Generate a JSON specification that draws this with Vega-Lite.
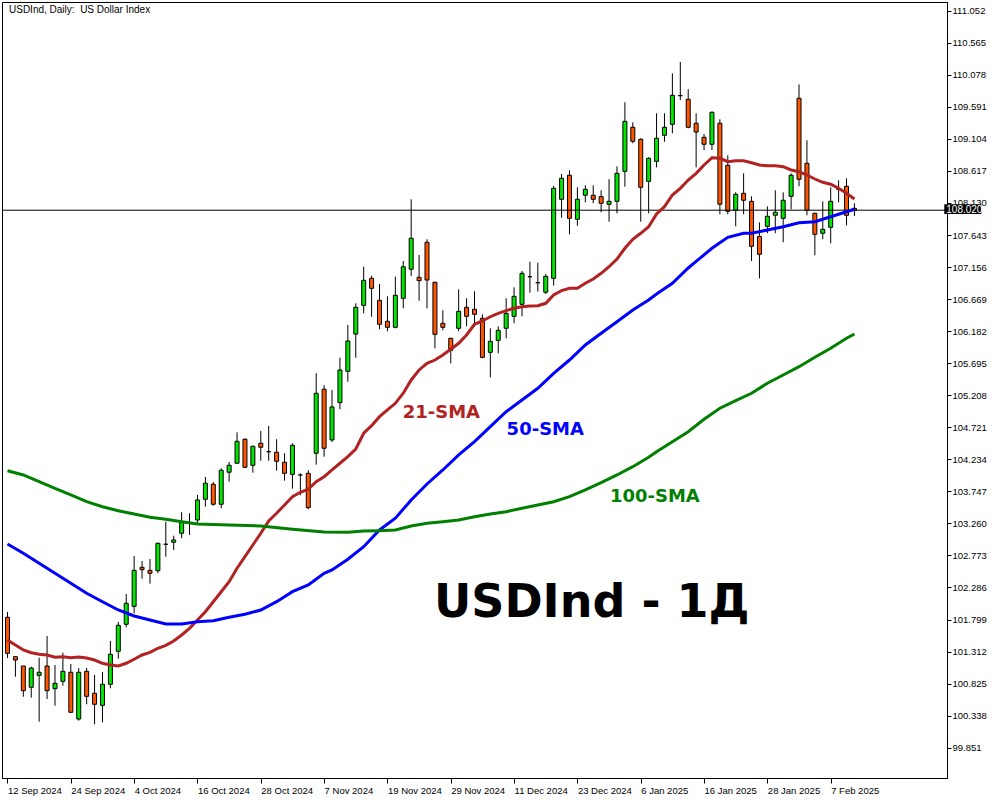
{
"$schema": "https://vega.github.io/schema/vega-lite/v6.json",
"width": 945, "height": 776,
"autosize": {"type": "none"},
"padding": {"left": 2, "top": 2, "right": 53, "bottom": 22},
"background": "white",
"config": {
"view": {"stroke": "black", "strokeWidth": 1},
"axis": {"title": null, "grid": false, "tickColor": "black", "domainColor": "black", "labelColor": "black", "labelFont": "Liberation Sans", "labelFontSize": 9.5, "labelOverlap": false, "labelFlush": false, "labelBound": false}
},
"datasets": {
"candles": [
{"i":0,"d":"2024-09-12","o":101.833,"h":101.914,"l":101.214,"c":101.286},
{"i":1,"d":"2024-09-13","o":101.234,"h":101.245,"l":100.930,"c":101.184},
{"i":2,"d":"2024-09-16","o":101.093,"h":101.093,"l":100.626,"c":100.717},
{"i":3,"d":"2024-09-17","o":100.769,"h":101.082,"l":100.611,"c":101.062},
{"i":4,"d":"2024-09-18","o":100.951,"h":101.219,"l":100.246,"c":100.997},
{"i":5,"d":"2024-09-19","o":101.093,"h":101.549,"l":100.591,"c":100.717},
{"i":6,"d":"2024-09-20","o":100.748,"h":101.108,"l":100.489,"c":100.830},
{"i":7,"d":"2024-09-23","o":100.860,"h":101.295,"l":100.793,"c":101.012},
{"i":8,"d":"2024-09-24","o":100.997,"h":101.123,"l":100.380,"c":100.389},
{"i":9,"d":"2024-09-25","o":100.287,"h":101.062,"l":100.262,"c":100.997},
{"i":10,"d":"2024-09-26","o":101.012,"h":101.062,"l":100.511,"c":100.632},
{"i":11,"d":"2024-09-27","o":100.678,"h":100.956,"l":100.207,"c":100.511},
{"i":12,"d":"2024-09-30","o":100.495,"h":101.002,"l":100.237,"c":100.815},
{"i":13,"d":"2024-10-01","o":100.815,"h":101.473,"l":100.754,"c":101.271},
{"i":14,"d":"2024-10-02","o":101.316,"h":101.762,"l":101.204,"c":101.711},
{"i":15,"d":"2024-10-03","o":101.727,"h":102.187,"l":101.681,"c":102.046},
{"i":16,"d":"2024-10-04","o":102.000,"h":102.765,"l":101.894,"c":102.547},
{"i":17,"d":"2024-10-07","o":102.593,"h":102.689,"l":102.420,"c":102.557},
{"i":18,"d":"2024-10-08","o":102.547,"h":102.719,"l":102.344,"c":102.502},
{"i":19,"d":"2024-10-09","o":102.541,"h":102.965,"l":102.502,"c":102.958},
{"i":20,"d":"2024-10-10","o":102.943,"h":103.286,"l":102.754,"c":102.943},
{"i":21,"d":"2024-10-11","o":102.973,"h":103.073,"l":102.856,"c":103.008},
{"i":22,"d":"2024-10-14","o":103.110,"h":103.429,"l":103.034,"c":103.277},
{"i":23,"d":"2024-10-15","o":103.262,"h":103.414,"l":103.084,"c":103.262},
{"i":24,"d":"2024-10-16","o":103.312,"h":103.692,"l":103.262,"c":103.616},
{"i":25,"d":"2024-10-17","o":103.627,"h":103.966,"l":103.514,"c":103.870},
{"i":26,"d":"2024-10-18","o":103.855,"h":103.890,"l":103.529,"c":103.551},
{"i":27,"d":"2024-10-21","o":103.551,"h":104.098,"l":103.490,"c":104.068},
{"i":28,"d":"2024-10-22","o":104.038,"h":104.194,"l":103.894,"c":104.143},
{"i":29,"d":"2024-10-23","o":104.174,"h":104.645,"l":104.174,"c":104.508},
{"i":30,"d":"2024-10-24","o":104.539,"h":104.554,"l":104.105,"c":104.113},
{"i":31,"d":"2024-10-25","o":104.143,"h":104.440,"l":104.031,"c":104.432},
{"i":32,"d":"2024-10-28","o":104.478,"h":104.665,"l":104.213,"c":104.417},
{"i":33,"d":"2024-10-29","o":104.350,"h":104.741,"l":104.213,"c":104.350},
{"i":34,"d":"2024-10-30","o":104.341,"h":104.539,"l":104.061,"c":104.204},
{"i":35,"d":"2024-10-31","o":104.189,"h":104.326,"l":103.910,"c":104.021},
{"i":36,"d":"2024-11-01","o":104.006,"h":104.478,"l":103.788,"c":104.447},
{"i":37,"d":"2024-11-04","o":103.996,"h":104.021,"l":103.687,"c":103.996},
{"i":38,"d":"2024-11-05","o":104.021,"h":104.068,"l":103.475,"c":103.499},
{"i":39,"d":"2024-11-06","o":104.326,"h":105.542,"l":104.153,"c":105.238},
{"i":40,"d":"2024-11-07","o":105.299,"h":105.359,"l":104.274,"c":104.402},
{"i":41,"d":"2024-11-08","o":104.528,"h":105.288,"l":104.498,"c":105.030},
{"i":42,"d":"2024-11-11","o":105.095,"h":105.778,"l":104.995,"c":105.591},
{"i":43,"d":"2024-11-12","o":105.571,"h":106.275,"l":105.413,"c":106.032},
{"i":44,"d":"2024-11-13","o":106.138,"h":106.605,"l":105.778,"c":106.544},
{"i":45,"d":"2024-11-14","o":106.574,"h":107.161,"l":106.453,"c":106.954},
{"i":46,"d":"2024-11-15","o":106.985,"h":107.024,"l":106.401,"c":106.833},
{"i":47,"d":"2024-11-18","o":106.650,"h":106.898,"l":106.210,"c":106.286},
{"i":48,"d":"2024-11-19","o":106.331,"h":106.711,"l":106.179,"c":106.240},
{"i":49,"d":"2024-11-20","o":106.240,"h":107.009,"l":106.225,"c":106.726},
{"i":50,"d":"2024-11-21","o":106.681,"h":107.248,"l":106.529,"c":107.161},
{"i":51,"d":"2024-11-22","o":107.122,"h":108.186,"l":107.020,"c":107.593},
{"i":52,"d":"2024-11-25","o":107.000,"h":107.339,"l":106.644,"c":106.949},
{"i":53,"d":"2024-11-26","o":107.532,"h":107.578,"l":106.529,"c":106.959},
{"i":54,"d":"2024-11-27","o":106.924,"h":106.935,"l":105.921,"c":106.134},
{"i":55,"d":"2024-11-28","o":106.301,"h":106.498,"l":106.194,"c":106.240},
{"i":56,"d":"2024-11-29","o":106.073,"h":106.080,"l":105.693,"c":105.890},
{"i":57,"d":"2024-12-02","o":106.225,"h":106.818,"l":106.179,"c":106.483},
{"i":58,"d":"2024-12-03","o":106.544,"h":106.681,"l":106.255,"c":106.407},
{"i":59,"d":"2024-12-04","o":106.514,"h":106.787,"l":106.249,"c":106.438},
{"i":60,"d":"2024-12-05","o":106.377,"h":106.438,"l":105.769,"c":105.784},
{"i":61,"d":"2024-12-06","o":105.860,"h":106.225,"l":105.480,"c":106.027},
{"i":62,"d":"2024-12-09","o":106.042,"h":106.255,"l":105.845,"c":106.194},
{"i":63,"d":"2024-12-10","o":106.225,"h":106.681,"l":106.073,"c":106.453},
{"i":64,"d":"2024-12-11","o":106.407,"h":106.848,"l":106.301,"c":106.711},
{"i":65,"d":"2024-12-12","o":106.590,"h":107.096,"l":106.407,"c":107.061},
{"i":66,"d":"2024-12-13","o":107.009,"h":107.237,"l":106.767,"c":107.009},
{"i":67,"d":"2024-12-16","o":106.918,"h":107.222,"l":106.782,"c":106.918},
{"i":68,"d":"2024-12-17","o":106.773,"h":107.050,"l":106.747,"c":107.015},
{"i":69,"d":"2024-12-18","o":106.985,"h":108.388,"l":106.874,"c":108.353},
{"i":70,"d":"2024-12-19","o":108.186,"h":108.571,"l":107.906,"c":108.505},
{"i":71,"d":"2024-12-20","o":108.551,"h":108.627,"l":107.654,"c":107.897},
{"i":72,"d":"2024-12-23","o":107.882,"h":108.368,"l":107.784,"c":108.186},
{"i":73,"d":"2024-12-24","o":108.247,"h":108.399,"l":108.140,"c":108.338},
{"i":74,"d":"2024-12-26","o":108.247,"h":108.399,"l":108.125,"c":108.186},
{"i":75,"d":"2024-12-27","o":108.226,"h":108.323,"l":107.988,"c":108.125},
{"i":76,"d":"2024-12-30","o":108.110,"h":108.490,"l":107.845,"c":108.155},
{"i":77,"d":"2024-12-31","o":108.155,"h":108.687,"l":107.973,"c":108.581},
{"i":78,"d":"2025-01-02","o":108.611,"h":109.660,"l":108.377,"c":109.371},
{"i":79,"d":"2025-01-03","o":109.280,"h":109.356,"l":109.037,"c":109.067},
{"i":80,"d":"2025-01-06","o":109.098,"h":109.113,"l":107.845,"c":108.368},
{"i":81,"d":"2025-01-07","o":108.459,"h":108.824,"l":107.973,"c":108.809},
{"i":82,"d":"2025-01-08","o":108.763,"h":109.493,"l":108.672,"c":109.113},
{"i":83,"d":"2025-01-09","o":109.159,"h":109.493,"l":109.061,"c":109.280},
{"i":84,"d":"2025-01-10","o":109.326,"h":110.100,"l":109.189,"c":109.767},
{"i":85,"d":"2025-01-13","o":109.761,"h":110.273,"l":109.695,"c":109.761},
{"i":86,"d":"2025-01-14","o":109.706,"h":109.858,"l":109.265,"c":109.280},
{"i":87,"d":"2025-01-15","o":109.341,"h":109.493,"l":108.672,"c":109.208},
{"i":88,"d":"2025-01-16","o":109.128,"h":109.178,"l":108.930,"c":109.022},
{"i":89,"d":"2025-01-17","o":109.022,"h":109.520,"l":108.935,"c":109.508},
{"i":90,"d":"2025-01-20","o":109.341,"h":109.402,"l":107.958,"c":108.110},
{"i":91,"d":"2025-01-21","o":108.702,"h":108.854,"l":107.958,"c":108.003},
{"i":92,"d":"2025-01-22","o":108.019,"h":108.292,"l":107.775,"c":108.262},
{"i":93,"d":"2025-01-23","o":108.277,"h":108.581,"l":107.958,"c":108.171},
{"i":94,"d":"2025-01-24","o":108.155,"h":108.231,"l":107.248,"c":107.471},
{"i":95,"d":"2025-01-27","o":107.622,"h":107.836,"l":106.985,"c":107.350},
{"i":96,"d":"2025-01-28","o":107.775,"h":108.079,"l":107.669,"c":107.927},
{"i":97,"d":"2025-01-29","o":107.943,"h":108.323,"l":107.669,"c":107.988},
{"i":98,"d":"2025-01-30","o":107.897,"h":108.292,"l":107.532,"c":108.171},
{"i":99,"d":"2025-01-31","o":108.231,"h":108.581,"l":108.034,"c":108.551},
{"i":100,"d":"2025-02-03","o":109.721,"h":109.932,"l":108.384,"c":108.490},
{"i":101,"d":"2025-02-04","o":108.733,"h":109.083,"l":107.943,"c":108.019},
{"i":102,"d":"2025-02-05","o":107.973,"h":107.980,"l":107.334,"c":107.654},
{"i":103,"d":"2025-02-06","o":107.669,"h":108.155,"l":107.578,"c":107.730},
{"i":104,"d":"2025-02-07","o":107.760,"h":108.368,"l":107.517,"c":108.155},
{"i":105,"d":"2025-02-10","o":108.338,"h":108.475,"l":108.140,"c":108.338},
{"i":106,"d":"2025-02-11","o":108.383,"h":108.505,"l":107.790,"c":107.943},
{"i":107,"d":"2025-02-12","o":108.049,"h":108.125,"l":107.932,"c":108.020}
],
"sma": [
{"s":"21","i":0,"v":101.488},{"s":"21","i":1,"v":101.412},{"s":"21","i":2,"v":101.336},{"s":"21","i":3,"v":101.295},{"s":"21","i":4,"v":101.271},{"s":"21","i":5,"v":101.260},{"s":"21","i":6,"v":101.225},{"s":"21","i":7,"v":101.234},{"s":"21","i":8,"v":101.219},{"s":"21","i":9,"v":101.230},
{"s":"21","i":10,"v":101.214},{"s":"21","i":11,"v":101.184},{"s":"21","i":12,"v":101.134},{"s":"21","i":13,"v":101.108},{"s":"21","i":14,"v":101.093},{"s":"21","i":15,"v":101.134},{"s":"21","i":16,"v":101.195},{"s":"21","i":17,"v":101.260},{"s":"21","i":18,"v":101.301},{"s":"21","i":19,"v":101.362},
{"s":"21","i":20,"v":101.407},{"s":"21","i":21,"v":101.473},{"s":"21","i":22,"v":101.564},{"s":"21","i":23,"v":101.666},{"s":"21","i":24,"v":101.792},{"s":"21","i":25,"v":101.918},{"s":"21","i":26,"v":102.070},{"s":"21","i":27,"v":102.222},{"s":"21","i":28,"v":102.374},{"s":"21","i":29,"v":102.578},
{"s":"21","i":30,"v":102.754},{"s":"21","i":31,"v":102.932},{"s":"21","i":32,"v":103.110},{"s":"21","i":33,"v":103.297},{"s":"21","i":34,"v":103.414},{"s":"21","i":35,"v":103.540},{"s":"21","i":36,"v":103.666},{"s":"21","i":37,"v":103.733},{"s":"21","i":38,"v":103.779},{"s":"21","i":39,"v":103.894},
{"s":"21","i":40,"v":103.970},{"s":"21","i":41,"v":104.072},{"s":"21","i":42,"v":104.174},{"s":"21","i":43,"v":104.274},{"s":"21","i":44,"v":104.391},{"s":"21","i":45,"v":104.630},{"s":"21","i":46,"v":104.745},{"s":"21","i":47,"v":104.882},{"s":"21","i":48,"v":104.984},{"s":"21","i":49,"v":105.085},
{"s":"21","i":50,"v":105.238},{"s":"21","i":51,"v":105.440},{"s":"21","i":52,"v":105.592},{"s":"21","i":53,"v":105.693},{"s":"21","i":54,"v":105.743},{"s":"21","i":55,"v":105.819},{"s":"21","i":56,"v":105.906},{"s":"21","i":57,"v":105.997},{"s":"21","i":58,"v":106.124},{"s":"21","i":59,"v":106.286},
{"s":"21","i":60,"v":106.336},{"s":"21","i":61,"v":106.401},{"s":"21","i":62,"v":106.453},{"s":"21","i":63,"v":106.493},{"s":"21","i":64,"v":106.529},{"s":"21","i":65,"v":106.554},{"s":"21","i":66,"v":106.564},{"s":"21","i":67,"v":106.569},{"s":"21","i":68,"v":106.605},{"s":"21","i":69,"v":106.731},
{"s":"21","i":70,"v":106.797},{"s":"21","i":71,"v":106.833},{"s":"21","i":72,"v":106.833},{"s":"21","i":73,"v":106.909},{"s":"21","i":74,"v":106.975},{"s":"21","i":75,"v":107.061},{"s":"21","i":76,"v":107.161},{"s":"21","i":77,"v":107.278},{"s":"21","i":78,"v":107.441},{"s":"21","i":79,"v":107.578},
{"s":"21","i":80,"v":107.669},{"s":"21","i":81,"v":107.769},{"s":"21","i":82,"v":107.962},{"s":"21","i":83,"v":108.073},{"s":"21","i":84,"v":108.251},{"s":"21","i":85,"v":108.353},{"s":"21","i":86,"v":108.479},{"s":"21","i":87,"v":108.581},{"s":"21","i":88,"v":108.707},{"s":"21","i":89,"v":108.818},
{"s":"21","i":90,"v":108.809},{"s":"21","i":91,"v":108.757},{"s":"21","i":92,"v":108.772},{"s":"21","i":93,"v":108.772},{"s":"21","i":94,"v":108.742},{"s":"21","i":95,"v":108.707},{"s":"21","i":96,"v":108.696},{"s":"21","i":97,"v":108.696},{"s":"21","i":98,"v":108.681},{"s":"21","i":99,"v":108.631},
{"s":"21","i":100,"v":108.605},{"s":"21","i":101,"v":108.555},{"s":"21","i":102,"v":108.494},{"s":"21","i":103,"v":108.444},{"s":"21","i":104,"v":108.414},{"s":"21","i":105,"v":108.353},{"s":"21","i":106,"v":108.277},{"s":"21","i":107,"v":108.190},
{"s":"50","i":0,"v":102.947},{"s":"50","i":2,"v":102.806},{"s":"50","i":4,"v":102.654},{"s":"50","i":6,"v":102.502},{"s":"50","i":8,"v":102.350},{"s":"50","i":10,"v":102.198},{"s":"50","i":12,"v":102.070},{"s":"50","i":14,"v":101.944},{"s":"50","i":16,"v":101.853},{"s":"50","i":18,"v":101.792},
{"s":"50","i":20,"v":101.731},{"s":"50","i":22,"v":101.731},{"s":"50","i":24,"v":101.766},{"s":"50","i":26,"v":101.781},{"s":"50","i":28,"v":101.833},{"s":"50","i":30,"v":101.879},{"s":"50","i":32,"v":101.944},{"s":"50","i":34,"v":102.070},{"s":"50","i":36,"v":102.222},{"s":"50","i":38,"v":102.324},
{"s":"50","i":40,"v":102.502},{"s":"50","i":41,"v":102.552},{"s":"50","i":43,"v":102.715},{"s":"50","i":45,"v":102.906},{"s":"50","i":47,"v":103.160},{"s":"50","i":49,"v":103.338},{"s":"50","i":51,"v":103.616},{"s":"50","i":53,"v":103.859},{"s":"50","i":55,"v":104.072},{"s":"50","i":57,"v":104.300},
{"s":"50","i":59,"v":104.502},{"s":"50","i":61,"v":104.730},{"s":"50","i":63,"v":104.958},{"s":"50","i":65,"v":105.136},{"s":"50","i":67,"v":105.313},{"s":"50","i":69,"v":105.541},{"s":"50","i":71,"v":105.743},{"s":"50","i":73,"v":105.971},{"s":"50","i":75,"v":106.149},{"s":"50","i":77,"v":106.325},
{"s":"50","i":79,"v":106.503},{"s":"50","i":81,"v":106.655},{"s":"50","i":82,"v":106.747},{"s":"50","i":84,"v":106.909},{"s":"50","i":86,"v":107.142},{"s":"50","i":87,"v":107.241},{"s":"50","i":89,"v":107.441},{"s":"50","i":91,"v":107.608},{"s":"50","i":93,"v":107.669},{"s":"50","i":94,"v":107.669},
{"s":"50","i":96,"v":107.719},{"s":"50","i":98,"v":107.769},{"s":"50","i":100,"v":107.830},{"s":"50","i":102,"v":107.845},{"s":"50","i":104,"v":107.921},{"s":"50","i":106,"v":107.997},{"s":"50","i":107,"v":108.034},
{"s":"100","i":0,"v":104.061},{"s":"100","i":2,"v":103.996},{"s":"100","i":4,"v":103.894},{"s":"100","i":6,"v":103.793},{"s":"100","i":8,"v":103.692},{"s":"100","i":10,"v":103.590},{"s":"100","i":12,"v":103.514},{"s":"100","i":14,"v":103.453},{"s":"100","i":16,"v":103.403},{"s":"100","i":18,"v":103.353},
{"s":"100","i":20,"v":103.323},{"s":"100","i":22,"v":103.286},{"s":"100","i":24,"v":103.251},{"s":"100","i":28,"v":103.236},{"s":"100","i":32,"v":103.221},{"s":"100","i":36,"v":103.171},{"s":"100","i":40,"v":103.130},{"s":"100","i":43,"v":103.125},{"s":"100","i":45,"v":103.145},{"s":"100","i":47,"v":103.150},
{"s":"100","i":49,"v":103.160},{"s":"100","i":51,"v":103.221},{"s":"100","i":53,"v":103.262},{"s":"100","i":55,"v":103.286},{"s":"100","i":57,"v":103.312},{"s":"100","i":59,"v":103.362},{"s":"100","i":61,"v":103.403},{"s":"100","i":63,"v":103.438},{"s":"100","i":65,"v":103.490},{"s":"100","i":67,"v":103.540},
{"s":"100","i":69,"v":103.590},{"s":"100","i":71,"v":103.666},{"s":"100","i":73,"v":103.768},{"s":"100","i":75,"v":103.879},{"s":"100","i":77,"v":103.996},{"s":"100","i":79,"v":104.122},{"s":"100","i":81,"v":104.265},{"s":"100","i":82,"v":104.350},{"s":"100","i":84,"v":104.502},{"s":"100","i":86,"v":104.654},
{"s":"100","i":88,"v":104.842},{"s":"100","i":90,"v":105.010},{"s":"100","i":92,"v":105.125},{"s":"100","i":94,"v":105.238},{"s":"100","i":96,"v":105.390},{"s":"100","i":98,"v":105.516},{"s":"100","i":100,"v":105.642},{"s":"100","i":102,"v":105.785},{"s":"100","i":104,"v":105.921},{"s":"100","i":106,"v":106.073},{"s":"100","i":107,"v":106.139}
]
},
"layer": [
{
"data": {"name": "candles"},
"mark": {"type": "rule", "color": "black", "strokeWidth": 1, "clip": true},
"encoding": {
"x": {"field": "i", "type": "quantitative", "scale": {"domain": [-0.0625, 118.0625], "zero": false, "nice": false},
"axis": {"orient": "bottom", "title": null, "values": [0,8,16,24,32,40,48,56,64,72,80,88,96,104], "tickCount": 100,
"labelExpr": "['12 Sep 2024','24 Sep 2024','4 Oct 2024','16 Oct 2024','28 Oct 2024','7 Nov 2024','19 Nov 2024','29 Nov 2024','11 Dec 2024','23 Dec 2024','6 Jan 2025','16 Jan 2025','28 Jan 2025','7 Feb 2025'][round(datum.value/8)]",
"tickSize": 5, "labelAlign": "left", "labelBaseline": "top", "labelPadding": 2, "labelOverlap": false, "labelFontSize": 9.5}},
"y": {"field": "l", "type": "quantitative", "scale": {"domain": [99.3906, 111.1842], "zero": false, "nice": false},
"axis": {"orient": "right", "title": null, "values": [99.851,100.338,100.825,101.312,101.799,102.286,102.773,103.26,103.747,104.234,104.721,105.208,105.695,106.182,106.669,107.156,107.643,108.13,108.617,109.104,109.591,110.078,110.565,111.052], "tickCount": 100,
"format": ".3f", "tickSize": 4, "labelPadding": 1, "labelOverlap": false, "labelFontSize": 9.5}},
"y2": {"field": "h"}
}
},
{
"data": {"name": "candles"},
"mark": {"type": "bar", "size": 4, "stroke": "black", "strokeWidth": 1, "clip": true},
"encoding": {
"x": {"field": "i", "type": "quantitative"},
"y": {"field": "o", "type": "quantitative"},
"y2": {"field": "c"},
"fill": {"condition": {"test": "datum.c >= datum.o", "value": "#00E600"}, "value": "#FF5500"}
}
},
{
"data": {"values": [{"p": 108.02}]},
"mark": {"type": "rule", "color": "black", "strokeWidth": 1},
"encoding": {"y": {"field": "p", "type": "quantitative"}}
},
{
"data": {"name": "sma"},
"mark": {"type": "line", "strokeWidth": 3, "clip": true},
"encoding": {
"x": {"field": "i", "type": "quantitative"},
"y": {"field": "v", "type": "quantitative"},
"color": {"field": "s", "type": "nominal", "scale": {"domain": ["21","50","100"], "range": ["#B22222","#0000FF","#008000"]}, "legend": null}
}
},
{
"data": {"values": [{"p": 108.02}]},
"mark": {"type": "rect", "color": "black", "clip": false},
"encoding": {
"x": {"datum": 118.35, "type": "quantitative"},
"x2": {"datum": 123.03},
"y": {"datum": 108.110, "type": "quantitative"},
"y2": {"datum": 107.962}
}
},
{
"data": {"values": [{"p": 108.02, "t": "108.020"}]},
"mark": {"type": "text", "color": "white", "align": "left", "baseline": "middle", "font": "Liberation Sans", "fontSize": 10, "clip": false},
"encoding": {
"x": {"datum": 118.6, "type": "quantitative"},
"y": {"field": "p", "type": "quantitative"},
"text": {"field": "t"}
}
},
{
"data": {"values": [{"i": 0.19, "v": 111.012, "t": "USDInd, Daily: \u00a0US Dollar Index"}]},
"mark": {"type": "text", "color": "black", "align": "left", "baseline": "alphabetic", "font": "Liberation Sans", "fontSize": 10},
"encoding": {"x": {"field": "i", "type": "quantitative"}, "y": {"field": "v", "type": "quantitative"}, "text": {"field": "t"}}
},
{
"data": {"values": [{"i": 54.81, "v": 104.857, "t": "21-SMA"}]},
"mark": {"type": "text", "color": "#B22222", "align": "center", "baseline": "alphabetic", "font": "DejaVu Sans", "fontWeight": "bold", "fontSize": 18},
"encoding": {"x": {"field": "i", "type": "quantitative"}, "y": {"field": "v", "type": "quantitative"}, "text": {"field": "t"}}
},
{
"data": {"values": [{"i": 67.94, "v": 104.604, "t": "50-SMA"}]},
"mark": {"type": "text", "color": "#0000FF", "align": "center", "baseline": "alphabetic", "font": "DejaVu Sans", "fontWeight": "bold", "fontSize": 18},
"encoding": {"x": {"field": "i", "type": "quantitative"}, "y": {"field": "v", "type": "quantitative"}, "text": {"field": "t"}}
},
{
"data": {"values": [{"i": 81.78, "v": 103.590, "t": "100-SMA"}]},
"mark": {"type": "text", "color": "#008000", "align": "center", "baseline": "alphabetic", "font": "DejaVu Sans", "fontWeight": "bold", "fontSize": 18},
"encoding": {"x": {"field": "i", "type": "quantitative"}, "y": {"field": "v", "type": "quantitative"}, "text": {"field": "t"}}
},
{
"data": {"values": [{"i": 73.81, "v": 101.838, "t": "USDInd - 1Д"}]},
"mark": {"type": "text", "color": "black", "align": "center", "baseline": "alphabetic", "font": "DejaVu Sans", "fontWeight": "bold", "fontSize": 46},
"encoding": {"x": {"field": "i", "type": "quantitative"}, "y": {"field": "v", "type": "quantitative"}, "text": {"field": "t"}}
}
]
}
